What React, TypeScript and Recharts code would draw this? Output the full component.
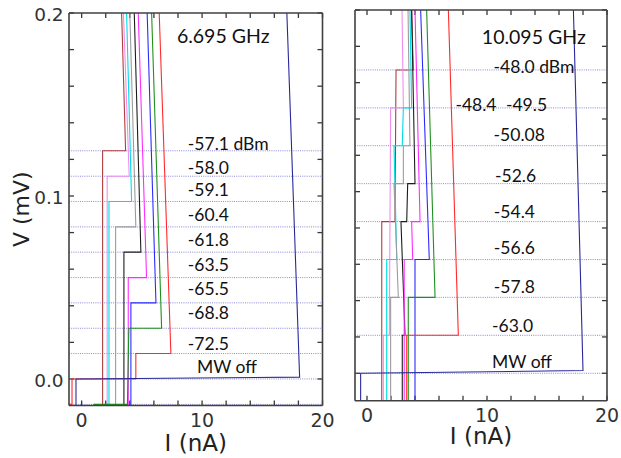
import React from 'react';
import { LineChart, Line, XAxis, YAxis, ReferenceLine, ReferenceDot } from 'recharts';

type Pt = [number, number];

// ---------- 6.695 GHz panel ----------
// Shapiro step voltages (mV), one dotted guide per step
const leftStepLevels = [-0.0139, 0, 0.0139, 0.0277, 0.0416, 0.0554, 0.0693, 0.0831, 0.097, 0.1108, 0.1247];

// I (nA), V (mV) traces for each microwave power
const left571: Pt[] = [[1.74, -0.03], [1.74, 0.1247], [3.65, 0.1247], [3.32, 0.2]];
const left580: Pt[] = [[2.12, -0.03], [2.12, 0.1108], [3.95, 0.1108], [3.47, 0.2]];
const left591: Pt[] = [[2.27, -0.03], [2.27, 0.097], [4.15, 0.097], [3.73, 0.2]];
const left604: Pt[] = [[2.82, -0.03], [2.82, 0.0831], [4.5, 0.0831], [4.0, 0.2]];
const left618: Pt[] = [[3.51, -0.03], [3.51, 0.0693], [4.92, 0.0693], [4.37, 0.2]];
const left635: Pt[] = [[3.87, -0.03], [3.87, 0.0554], [5.39, 0.0554], [4.7, 0.2]];
const left655: Pt[] = [[4.09, -0.03], [4.09, 0.0416], [6.17, 0.0416], [5.44, 0.2]];
const left688: Pt[] = [[1.02, -0.03], [1.02, -0.0139], [3.8, -0.0139], [3.92, 0.0277], [6.64, 0.0277], [5.81, 0.2]];
const left725: Pt[] = [[-1.5, -0.0139], [-0.8, -0.0139], [-0.8, 0], [4.5, 0], [4.5, 0.0139], [7.41, 0.0139], [6.44, 0.2]];
const leftOff: Pt[] = [[-0.47, -0.03], [-0.47, 0], [18.1, 0.001], [17.04, 0.2]];

const leftPowers = ['-57.1 dBm', '-58.0', '-59.1', '-60.4', '-61.8', '-63.5', '-65.5', '-68.8', '-72.5', 'MW off'];
const leftPowerAt: Pt[] = [
  [8.82, 0.1287], [8.82, 0.1153], [8.82, 0.1033], [8.82, 0.0898], [8.82, 0.076],
  [8.82, 0.0623], [8.82, 0.0492], [8.82, 0.0363], [8.82, 0.0191], [9.57, 0.0066],
];
const leftTitle = '6.695 GHz';
const leftTitleAt: Pt = [7.91, 0.1872];

// ---------- 10.095 GHz panel ----------
const rightStepLevels = [0, 0.0209, 0.0418, 0.0626, 0.0835, 0.1044, 0.1253, 0.1461, 0.167];

const right480: Pt[] = [[1.23, -0.03], [1.23, 0.0835], [2.33, 0.0835], [2.42, 0.167], [3.86, 0.167], [3.72, 0.2]];
const right484: Pt[] = [[1.36, -0.03], [1.36, 0.0209], [1.86, 0.0209], [1.97, 0.1461], [3.03, 0.1461], [2.92, 0.2]];
const right495: Pt[] = [[1.64, -0.03], [1.64, 0.0626], [2.48, 0.0626], [2.25, 0.1253], [2.94, 0.1253], [3.03, 0.1461], [3.72, 0.1461], [3.58, 0.2]];
const right5008: Pt[] = [[1.97, -0.03], [1.97, 0.0418], [2.61, 0.0418], [2.25, 0.1044], [3.03, 0.1044], [3.03, 0.1253], [3.58, 0.1253], [3.42, 0.2]];
const right526: Pt[] = [[2.94, -0.03], [2.94, 0.0209], [3.17, 0.0209], [2.83, 0.0835], [3.31, 0.0835], [3.39, 0.1044], [4.0, 0.1044], [3.72, 0.2]];
const right544: Pt[] = [[3.1, -0.03], [3.1, 0.0626], [3.81, 0.0626], [3.72, 0.0835], [4.42, 0.0835], [4.0, 0.2]];
const right566: Pt[] = [[4.0, -0.03], [4.0, 0.0626], [5.19, 0.0626], [4.47, 0.2]];
const right578: Pt[] = [[3.44, -0.03], [3.44, 0.0418], [5.67, 0.0418], [4.97, 0.2]];
const right630: Pt[] = [[3.31, -0.03], [3.31, 0.0209], [7.61, 0.0209], [6.78, 0.2]];
const rightOff: Pt[] = [[-0.53, -0.03], [-0.53, 0], [18.0, 0.0015], [17.2, 0.2]];

const rightPowers = ['-48.0 dBm', '-48.4', '-49.5', '-50.08', '-52.6', '-54.4', '-56.6', '-57.8', '-63.0', 'MW off'];
const rightPowerAt: Pt[] = [
  [10.55, 0.1685], [7.37, 0.1476], [11.58, 0.1476], [10.55, 0.1315], [10.67, 0.109],
  [10.57, 0.0887], [10.57, 0.069], [10.57, 0.0474], [10.42, 0.0263], [10.42, 0.0064],
];
const rightTitle = '10.095 GHz';
const rightTitleAt: Pt = [9.57, 0.1851];

// ---------- axes ----------
const xTicks = [0, 2, 4, 6, 8, 10, 12, 14, 16, 18, 20];
const xTickText: Record<number, string> = { 0: '0', 10: '10', 20: '20' };
const yTicks = [0, 0.02, 0.04, 0.06, 0.08, 0.1, 0.12, 0.14, 0.16, 0.18, 0.2];
const yTickText: Record<number, string> = { 0: '0.0', 0.1: '0.1', 0.2: '0.2' };

// trace colours, same order as the series lists
const palette = ['#b03c3c', '#ef8cef', '#00dde6', '#9c9c9c', '#1c1c1c', '#ff2bff', '#2b2bff', '#1f8f1f', '#ff2a2a', '#28289c'];

const leftCurves = [left571, left580, left591, left604, left618, left635, left655, left688, left725, leftOff];
const rightCurves = [right480, right484, right495, right5008, right526, right544, right566, right578, right630, rightOff];

const axisInk = '#404040';
const tickInk = '#383838';
const tickFont = 'DejaVu Sans';
const noteFont = 'Lato';
const TICK_PX = 5;

const emptyTick = () => <g />;

// With mirrored axes and tickMargin 0, (p.x, p.y) is the inner end of each tick
const makeBottomTick = (drop: number) => (p: any) => {
  const t = xTickText[p.payload.value];
  if (t === undefined) return <g />;
  return (
    <text x={p.x} y={p.y + drop} textAnchor="middle" fontFamily={tickFont} fontSize={19} fill="#333">
      {t}
    </text>
  );
};

const leftTick = (p: any) => {
  const t = yTickText[p.payload.value];
  if (t === undefined) return <g />;
  return (
    <text x={p.x - TICK_PX - 5.4} y={p.y + 8} textAnchor="end" fontFamily={tickFont} fontSize={18.5} fill="#333">
      {t}
    </text>
  );
};

type PanelProps = {
  curves: Pt[][];
  levels: number[];
  notes: string[];
  noteAt: Pt[];
  title: string;
  titleAt: Pt;
  xDomain: [number, number];
  yDomain: [number, number];
  width: number;
  height: number;
  margin: { top: number; right: number; bottom: number; left: number };
  tickDrop: number;
  titleGap: number;
  withYLabels: boolean;
};

function Panel(props: PanelProps) {
  const { curves, levels, notes, noteAt, title, titleAt, xDomain, yDomain, width, height, margin, tickDrop, titleGap, withYLabels } = props;
  const axisLine = { stroke: axisInk, strokeWidth: 1.6 };

  // inward tick marks along all four edges, 5px long in screen space
  const plotW = width - margin.left - margin.right;
  const plotH = height - margin.top - margin.bottom;
  const dx = (TICK_PX * (xDomain[1] - xDomain[0])) / plotW;
  const dy = (TICK_PX * (yDomain[1] - yDomain[0])) / plotH;
  const [x0, x1] = xDomain;
  const [y0, y1] = yDomain;

  return (
    <LineChart width={width} height={height} margin={margin}>
      <XAxis
        xAxisId="b"
        type="number"
        dataKey="i"
        domain={xDomain}
        allowDataOverflow
        ticks={xTicks}
        interval={0}
        mirror
        height={30}
        tickSize={TICK_PX}
        tickMargin={0}
        tick={makeBottomTick(tickDrop)}
        axisLine={axisLine}
        tickLine={false}
        label={{ value: 'I (nA)', position: 'bottom', offset: titleGap, fontFamily: tickFont, fontSize: 23, fill: '#222' }}
      />
      <XAxis
        xAxisId="t"
        orientation="top"
        type="number"
        domain={xDomain}
        allowDataOverflow
        ticks={xTicks}
        interval={0}
        mirror
        height={30}
        tick={emptyTick}
        axisLine={axisLine}
        tickLine={false}
      />
      <YAxis
        yAxisId="l"
        type="number"
        domain={yDomain}
        allowDataOverflow
        ticks={yTicks}
        interval={0}
        mirror
        width={40}
        tickSize={TICK_PX}
        tickMargin={0}
        tick={withYLabels ? leftTick : emptyTick}
        axisLine={axisLine}
        tickLine={false}
        label={
          withYLabels
            ? { value: 'V (mV)', angle: -90, position: 'left', offset: 48, style: { textAnchor: 'middle' }, fontFamily: tickFont, fontSize: 22, fill: '#222' }
            : undefined
        }
      />
      <YAxis
        yAxisId="r"
        orientation="right"
        type="number"
        domain={yDomain}
        allowDataOverflow
        ticks={yTicks}
        interval={0}
        mirror
        width={40}
        tick={emptyTick}
        axisLine={axisLine}
        tickLine={false}
      />
      {levels.map((v) => (
        <ReferenceLine
          key={`lv${v}`}
          xAxisId="b"
          yAxisId="l"
          y={v}
          stroke="#6a6ad0"
          strokeWidth={0.8}
          strokeDasharray="1 1.2"
        />
      ))}
      {xTicks.map((t) => (
        <ReferenceLine
          key={`xb${t}`}
          xAxisId="b"
          yAxisId="l"
          segment={[{ x: t, y: y0 }, { x: t, y: y0 + dy }]}
          ifOverflow="visible"
          stroke={tickInk}
          strokeWidth={1.3}
        />
      ))}
      {xTicks.map((t) => (
        <ReferenceLine
          key={`xt${t}`}
          xAxisId="b"
          yAxisId="l"
          segment={[{ x: t, y: y1 }, { x: t, y: y1 - dy }]}
          ifOverflow="visible"
          stroke={tickInk}
          strokeWidth={1.3}
        />
      ))}
      {yTicks.map((t) => (
        <ReferenceLine
          key={`yl${t}`}
          xAxisId="b"
          yAxisId="l"
          segment={[{ x: x0, y: t }, { x: x0 + dx, y: t }]}
          ifOverflow="visible"
          stroke={tickInk}
          strokeWidth={1.3}
        />
      ))}
      {yTicks.map((t) => (
        <ReferenceLine
          key={`yr${t}`}
          xAxisId="b"
          yAxisId="l"
          segment={[{ x: x1, y: t }, { x: x1 - dx, y: t }]}
          ifOverflow="visible"
          stroke={tickInk}
          strokeWidth={1.3}
        />
      ))}
      {curves.map((c, k) => (
        <Line
          key={`c${k}`}
          xAxisId="b"
          yAxisId="l"
          data={c.map(([i, v]) => ({ i, v }))}
          dataKey="v"
          type="linear"
          stroke={palette[k]}
          strokeWidth={1.1}
          dot={false}
          activeDot={false}
          isAnimationActive={false}
        />
      ))}
      {notes.map((n, k) => (
        <ReferenceDot
          key={`n${k}`}
          xAxisId="b"
          yAxisId="l"
          x={noteAt[k][0]}
          y={noteAt[k][1]}
          r={0}
          fill="none"
          stroke="none"
          label={{ value: n, position: 'right', offset: 0, fontFamily: noteFont, fontSize: 17.5, fill: '#111' }}
        />
      ))}
      <ReferenceDot
        xAxisId="b"
        yAxisId="l"
        x={titleAt[0]}
        y={titleAt[1]}
        r={0}
        fill="none"
        stroke="none"
        label={{ value: title, position: 'right', offset: 0, fontFamily: noteFont, fontSize: 19.5, fill: '#111' }}
      />
    </LineChart>
  );
}

export default function App() {
  return (
    <div style={{ position: 'absolute', left: 0, top: 0, width: 621, height: 458, background: '#fff', overflow: 'hidden' }}>
      <div style={{ position: 'absolute', left: 0, top: 0 }}>
        <Panel
          curves={leftCurves}
          levels={leftStepLevels}
          notes={leftPowers}
          noteAt={leftPowerAt}
          title={leftTitle}
          titleAt={leftTitleAt}
          xDomain={[-1.05, 20]}
          yDomain={[-0.0145, 0.2]}
          width={350}
          height={458}
          margin={{ top: 13, right: 27.5, bottom: 52.5, left: 69 }}
          tickDrop={26.5}
          titleGap={29.5}
          withYLabels
        />
      </div>
      <div style={{ position: 'absolute', left: 330, top: 0 }}>
        <Panel
          curves={rightCurves}
          levels={rightStepLevels}
          notes={rightPowers}
          noteAt={rightPowerAt}
          title={rightTitle}
          titleAt={rightTitleAt}
          xDomain={[-1.0, 20]}
          yDomain={[-0.0151, 0.2]}
          width={291}
          height={458}
          margin={{ top: 10, right: 14, bottom: 57.3, left: 25 }}
          tickDrop={25.8}
          titleGap={27.3}
          withYLabels={false}
        />
      </div>
    </div>
  );
}
